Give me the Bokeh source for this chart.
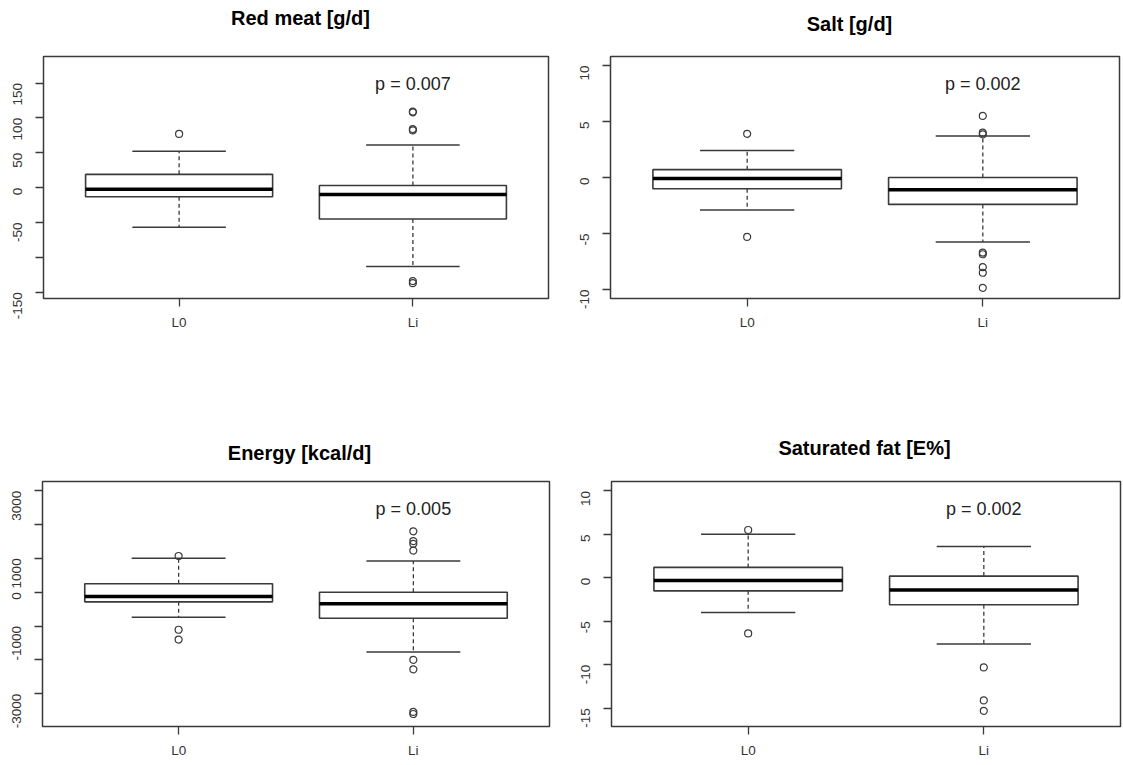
import math

from bokeh.core.properties import value
from bokeh.embed import file_html
from bokeh.layouts import column, row
from bokeh.models import FixedTicker, Range1d
from bokeh.plotting import figure
from bokeh.resources import INLINE

# ---------------------------------------------------------------------------
# Data: change from baseline per group (L0 = control, Li = intervention)
# Five-number summaries are [lower whisker, Q1, median, Q3, upper whisker]
# ---------------------------------------------------------------------------
groups = ["L0", "Li"]

red_meat_title = "Red meat [g/d]"
red_meat_L0 = [-57, -13, -2.5, 19, 52]
red_meat_Li = [-113, -45, -10, 3, 61]
red_meat_out_L0 = [77]
red_meat_out_Li = [109, 108, 84, 82, -134, -137]
red_meat_p = "p = 0.007"
red_meat_ticks = [-150, -100, -50, 0, 50, 100, 150]
red_meat_tick_labels = ["-150", "", "-50", "0", "50", "100", "150"]

salt_title = "Salt [g/d]"
salt_L0 = [-2.9, -1.0, -0.1, 0.7, 2.4]
salt_Li = [-5.75, -2.4, -1.1, 0.0, 3.7]
salt_out_L0 = [3.9, -5.3]
salt_out_Li = [5.5, 4.0, 3.85, -6.7, -6.85, -8.0, -8.5, -9.85]
salt_p = "p = 0.002"
salt_ticks = [-10, -5, 0, 5, 10]
salt_tick_labels = ["-10", "-5", "0", "5", "10"]

energy_title = "Energy [kcal/d]"
energy_L0 = [-740, -285, -130, 250, 1000]
energy_Li = [-1770, -770, -345, 0, 920]
energy_out_L0 = [1070, -1110, -1400]
energy_out_Li = [1800, 1510, 1430, 1230, -2000, -2280, -3540, -3600]
energy_p = "p = 0.005"
energy_ticks = [-3000, -2000, -1000, 0, 1000, 2000, 3000]
energy_tick_labels = ["-3000", "", "-1000", "0", "1000", "", "3000"]

satfat_title = "Saturated fat [E%]"
satfat_L0 = [-4.0, -1.5, -0.3, 1.2, 5.0]
satfat_Li = [-7.6, -3.1, -1.4, 0.2, 3.6]
satfat_out_L0 = [5.5, -6.4]
satfat_out_Li = [-10.3, -14.1, -15.3]
satfat_p = "p = 0.002"
satfat_ticks = [-15, -10, -5, 0, 5, 10]
satfat_tick_labels = ["-15", "-10", "-5", "0", "5", "10"]

# ---------------------------------------------------------------------------
# Styling
# ---------------------------------------------------------------------------
FONT = "Liberation Sans"
INK = "#3a3a3a"
BOX_W = 0.8           # box width in x units (groups sit at 1 and 2)
CAP_W = 0.4           # whisker staple width


def heading(text, width, height, center_x, baseline_from_bottom):
    """A thin strip that carries a bold panel heading."""
    h = figure(width=width, height=height,
               x_range=Range1d(0, width), y_range=Range1d(0, height),
               output_backend="svg", toolbar_location=None,
               x_axis_location=None, y_axis_location=None,
               min_border=0, outline_line_color=None)
    h.xgrid.visible = False
    h.ygrid.visible = False
    h.text(x=[center_x], y=[baseline_from_bottom], text=[text],
           text_align="center", text_baseline="alphabetic",
           text_font=value(FONT), text_font_size="20px",
           text_font_style="bold", text_color="black")
    return h


def boxplot(stats, outliers, ptext, ticks, tick_labels, y_lo, y_hi,
            width, height, borders):
    bl, br, bt, bb = borders
    p = figure(width=width, height=height,
               x_range=Range1d(0.42, 2.58), y_range=Range1d(y_lo, y_hi),
               output_backend="svg", toolbar_location=None,
               min_border_left=bl, min_border_right=br,
               min_border_top=bt, min_border_bottom=bb)

    p.xgrid.visible = False
    p.ygrid.visible = False
    p.outline_line_color = INK
    p.outline_line_width = 1.5
    p.background_fill_color = "white"
    p.border_fill_color = "white"

    xs = [i + 1 for i in range(len(groups))]
    lo = [s[0] for s in stats]
    q1 = [s[1] for s in stats]
    med = [s[2] for s in stats]
    q3 = [s[3] for s in stats]
    hi = [s[4] for s in stats]

    # dashed whiskers
    p.segment(x0=xs, y0=q3, x1=xs, y1=hi, line_color=INK,
              line_width=1.3, line_dash="4 3")
    p.segment(x0=xs, y0=q1, x1=xs, y1=lo, line_color=INK,
              line_width=1.3, line_dash="4 3")
    # staples
    p.segment(x0=[x - CAP_W / 2 for x in xs], x1=[x + CAP_W / 2 for x in xs],
              y0=hi, y1=hi, line_color=INK, line_width=1.5)
    p.segment(x0=[x - CAP_W / 2 for x in xs], x1=[x + CAP_W / 2 for x in xs],
              y0=lo, y1=lo, line_color=INK, line_width=1.5)
    # boxes
    p.vbar(x=xs, width=BOX_W, bottom=q1, top=q3, fill_color="white",
           line_color=INK, line_width=1.6)
    # medians
    p.segment(x0=[x - BOX_W / 2 for x in xs], x1=[x + BOX_W / 2 for x in xs],
              y0=med, y1=med, line_color="black", line_width=3.5)
    # outliers
    ox, oy = [], []
    for x, vals in zip(xs, outliers):
        ox += [x] * len(vals)
        oy += list(vals)
    p.scatter(x=ox, y=oy, marker="circle", size=7, fill_color=None,
              line_color=INK, line_width=1.2)

    # p-value annotation over the intervention group
    p.text(x=[2], y=[y_lo + 0.887 * (y_hi - y_lo)], text=[ptext],
           text_align="center", text_baseline="middle",
           text_font=value(FONT), text_font_size="18px", text_color="#222222")

    # axes
    p.xaxis.ticker = FixedTicker(ticks=xs)
    p.xaxis.major_label_overrides = {x: g for x, g in zip(xs, groups)}
    p.yaxis.ticker = FixedTicker(ticks=ticks)
    p.yaxis.major_label_overrides = {t: s for t, s in zip(ticks, tick_labels)}
    for ax in (p.xaxis[0], p.yaxis[0]):
        ax.axis_line_color = None
        ax.major_tick_in = 0
        ax.major_tick_out = 8
        ax.major_tick_line_color = INK
        ax.major_tick_line_width = 1.3
        ax.minor_tick_line_color = None
        ax.major_label_text_font = FONT
        ax.major_label_text_font_size = "13.5px"
        ax.major_label_text_color = "#333333"
    p.xaxis.major_label_standoff = 8
    p.yaxis.major_label_standoff = 18
    p.yaxis.major_label_orientation = math.pi / 2
    return p


# headings (strips above each panel)
t1 = heading(red_meat_title, 560, 48, 300, 31)
t2 = heading(salt_title, 563, 48, 289, 25)
t3 = heading(energy_title, 560, 86, 299, 23.5)
t4 = heading(satfat_title, 563, 86, 304, 28.5)

p1 = boxplot([red_meat_L0, red_meat_Li],
             [red_meat_out_L0, red_meat_out_Li], red_meat_p,
             red_meat_ticks, red_meat_tick_labels, -159, 188,
             560, 342, (43, 12, 6, 92))
p2 = boxplot([salt_L0, salt_Li],
             [salt_out_L0, salt_out_Li], salt_p,
             salt_ticks, salt_tick_labels, -10.8, 10.8,
             563, 342, (50, 4, 8, 89))
p3 = boxplot([energy_L0, energy_Li],
             [energy_out_L0, energy_out_Li], energy_p,
             energy_ticks, energy_tick_labels, -3970, 3272,
             560, 289, (42, 11, 5, 39))
p4 = boxplot([satfat_L0, satfat_Li],
             [satfat_out_L0, satfat_out_Li], satfat_p,
             satfat_ticks, satfat_tick_labels, -17.1, 11.08,
             563, 289, (51, 3, 5, 38))

layout = column(row(t1, t2), row(p1, p2), row(t3, t4), row(p3, p4))

with open("out.html", "w") as f:
    f.write(file_html(layout, INLINE))
